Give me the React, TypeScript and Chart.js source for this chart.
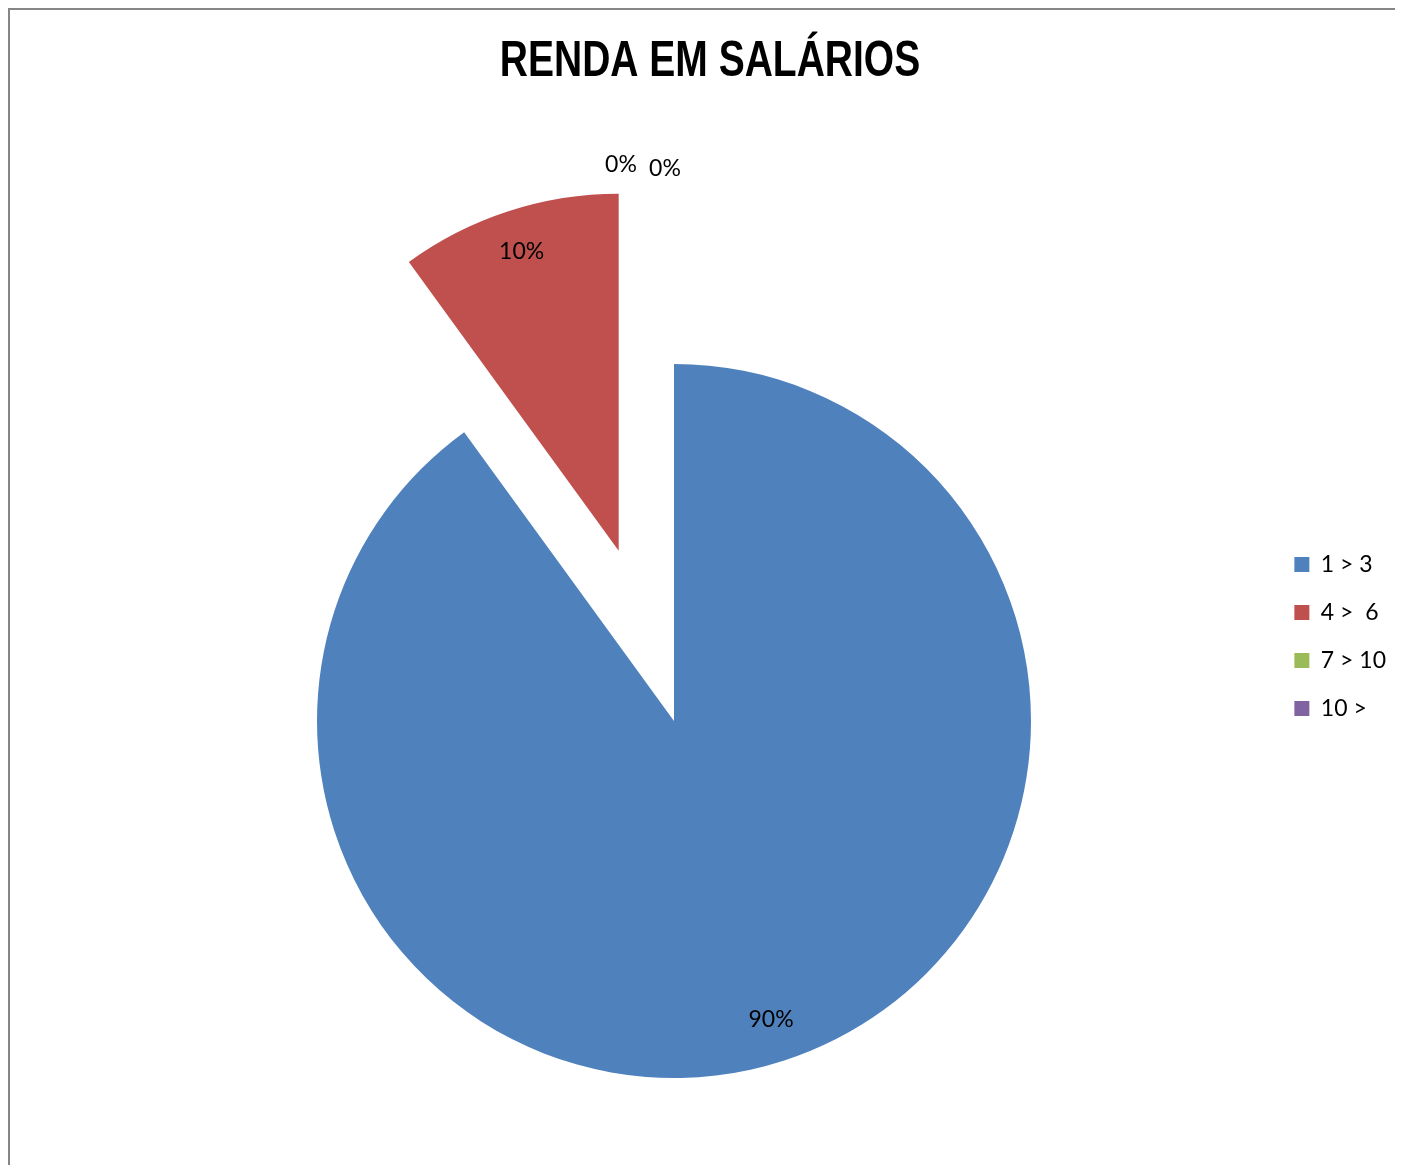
import { useEffect, useRef } from "react";
import { Chart, registerables, ArcElement } from "chart.js";

Chart.register(...registerables);

const TITLE = "RENDA EM SALÁRIOS";
const categories = ["1 > 3", "4 >  6", "7 > 10", "10 >"];
const values = [90, 10, 0, 0];
const colors = ["#4F81BD", "#C0504D", "#9BBB59", "#8064A2"];
const explodeDistance = [0, 179, 0, 0];

const LABEL_FONT = "Lato, 'Open Sans', sans-serif";

// Keeps the pie centred where the reference has it, independent of the legend box.
const pieCenterPlugin = {
  id: "pieCenter",
  afterLayout(chart: any, _args: any, opts: any) {
    const ca = chart.chartArea;
    const half = 300;
    ca.left = opts.x - half;
    ca.right = opts.x + half;
    ca.top = opts.y - half;
    ca.bottom = opts.y + half;
    ca.width = half * 2;
    ca.height = half * 2;
  },
};

// Pulls slices straight out along their bisector (like an exploded Excel pie).
const explodePlugin = {
  id: "explode",
  afterDatasetsUpdate(chart: any, _args: any, opts: any) {
    const meta = chart.getDatasetMeta(0);
    const dist: number[] = opts.distances || [];
    meta.data.forEach((arc: any, i: number) => {
      const d = dist[i] || 0;
      arc.$explode = d;
      if (!arc.$patched) {
        arc.$patched = true;
        arc.draw = function (ctx: CanvasRenderingContext2D) {
          const dd = this.$explode || 0;
          const mid = (this.startAngle + this.endAngle) / 2;
          ctx.save();
          ctx.translate(Math.cos(mid) * dd, Math.sin(mid) * dd);
          ArcElement.prototype.draw.call(this, ctx);
          ctx.restore();
        };
      }
    });
  },
};

const narrowTitlePlugin = {
  id: "narrowTitle",
  afterDraw(chart: any, _args: any, opts: any) {
    const ctx = chart.ctx;
    ctx.save();
    ctx.font = opts.font;
    ctx.fillStyle = opts.color;
    ctx.textAlign = "center";
    ctx.textBaseline = "alphabetic";
    ctx.translate(opts.x, opts.y);
    ctx.scale(opts.scaleX, 1);
    ctx.fillText(opts.text, 0, 0);
    ctx.restore();
  },
};

const pieLabelsPlugin = {
  id: "pieLabels",
  afterDatasetsDraw(chart: any, _args: any, opts: any) {
    const meta = chart.getDatasetMeta(0);
    const data = chart.data.datasets[0].data as number[];
    const total = data.reduce((a, b) => a + b, 0);
    const ctx = chart.ctx;
    ctx.save();
    ctx.font = `23px ${LABEL_FONT}`;
    ctx.fillStyle = "#000";
    ctx.textAlign = "center";
    ctx.textBaseline = "middle";
    let zeroIdx = 0;
    meta.data.forEach((arc: any, i: number) => {
      const { x, y, startAngle, endAngle, outerRadius } = arc.getProps(
        ["x", "y", "startAngle", "endAngle", "outerRadius"],
        true
      );
      const v = data[i];
      const text = Math.round((v / total) * 100) + "%";
      const mid = (startAngle + endAngle) / 2;
      const shift = arc.$explode || 0;
      let lx: number;
      let ly: number;
      if (v > 0) {
        const r = outerRadius * opts.inside + shift;
        lx = x + Math.cos(mid) * r;
        ly = y + Math.sin(mid) * r;
      } else {
        const r = outerRadius * 1.56;
        lx = x + Math.cos(mid) * r - 53 + zeroIdx * 44;
        ly = y + Math.sin(mid) * r + zeroIdx * 4;
        zeroIdx++;
      }
      ctx.fillText(text, lx, ly);
    });
    ctx.restore();
  },
};

export default function App() {
  const ref = useRef<HTMLCanvasElement | null>(null);

  useEffect(() => {
    if (!ref.current) return;
    const chart = new Chart(ref.current, {
      type: "pie",
      data: {
        labels: categories,
        datasets: [
          {
            data: values,
            backgroundColor: colors,
            borderWidth: 0,
            clip: false,
          } as any,
        ],
      },
      options: {
        responsive: false,
        animation: false,
        events: [],
        radius: 357,
        layout: { padding: { top: 95, right: 7, bottom: 0, left: 0 } },
        plugins: {
          title: { display: false },
          legend: {
            position: "right",
            labels: {
              boxWidth: 15,
              boxHeight: 15,
              padding: 25,
              color: "#000",
              font: { family: LABEL_FONT, size: 23 },
            },
          },
          tooltip: { enabled: false },
          pieCenter: { x: 664, y: 711 },
          explode: { distances: explodeDistance },
          pieLabels: { inside: 0.88 },
          narrowTitle: {
            text: TITLE,
            font: "bold 50px 'Liberation Sans', Arial, sans-serif",
            color: "#000",
            x: 700,
            y: 66,
            scaleX: 0.78,
          },
        } as any,
      } as any,
      plugins: [pieCenterPlugin, explodePlugin, pieLabelsPlugin, narrowTitlePlugin],
    });
    return () => chart.destroy();
  }, []);

  return (
    <div
      style={{
        borderTop: "2px solid #868686",
        borderLeft: "2px solid #868686",
        width: 1395,
        height: 1157,
        boxSizing: "border-box",
        overflow: "hidden",
        background: "#fff",
      }}
    >
      <canvas
        ref={ref}
        width={1393}
        height={1158}
        style={{ display: "block", width: 1393, height: 1158 }}
      />
    </div>
  );
}
